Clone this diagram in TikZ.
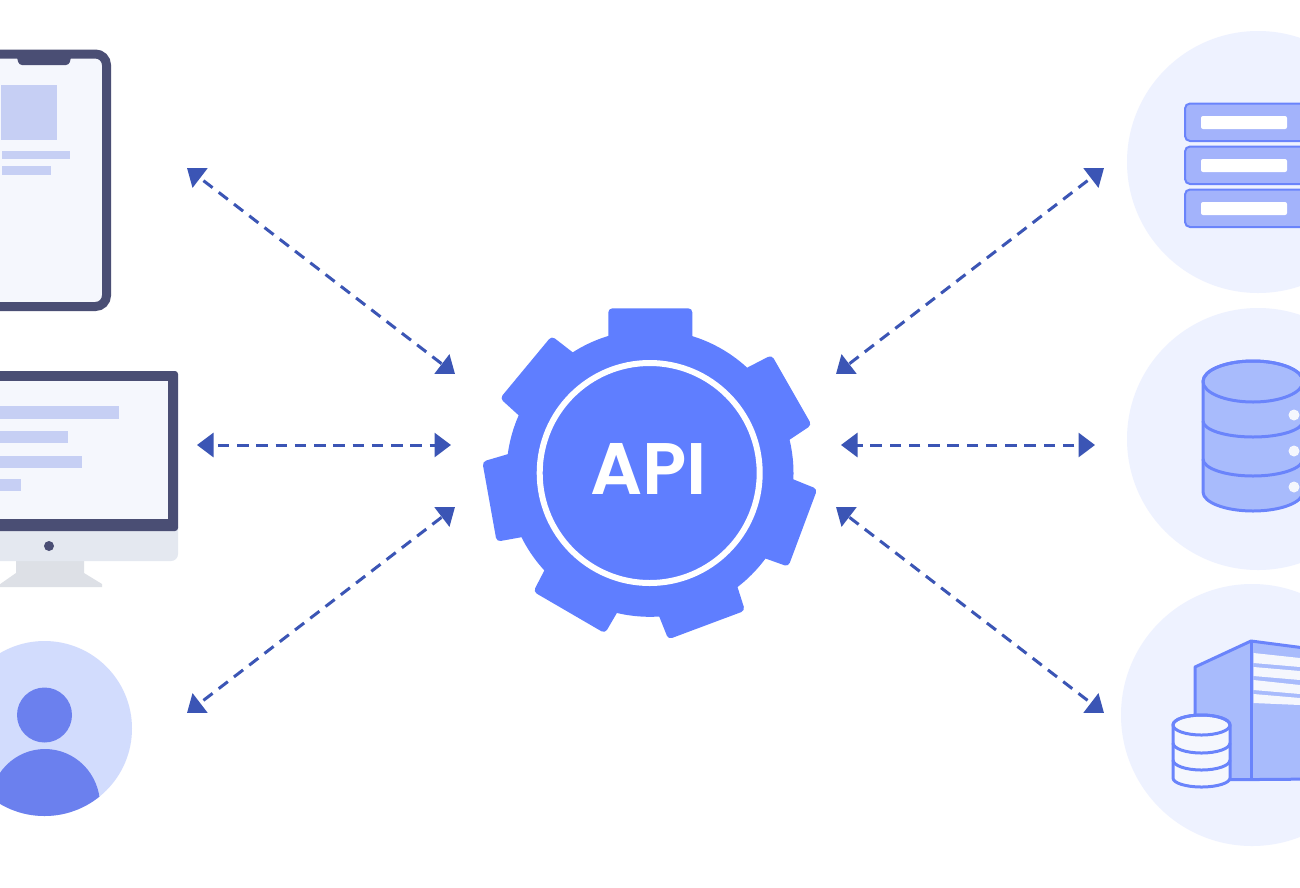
\documentclass[tikz,border=0pt]{standalone}
\usepackage{fontspec}
\setmainfont{Poppins}
\newfontfamily\apifont{Poppins SemiBold}
\usetikzlibrary{arrows.meta}
\definecolor{gearblue}{HTML}{5F7EFF}
\definecolor{arrowblue}{HTML}{3B55B5}
\definecolor{frame}{HTML}{4A4E74}
\definecolor{screen}{HTML}{F5F7FD}
\definecolor{barcol}{HTML}{C6CFF4}
\definecolor{chin}{HTML}{E4E8F0}
\definecolor{standcol}{HTML}{DDE0E6}
\definecolor{halo}{HTML}{EEF2FF}
\definecolor{userbg}{HTML}{D2DCFD}
\definecolor{userfg}{HTML}{6B80EE}
\definecolor{iconfill}{HTML}{A8BBFC}
\definecolor{serverfill}{HTML}{A3B3FB}
\definecolor{iconline}{HTML}{6A84FB}
\tikzset{
  conn/.style={draw=arrowblue,line width=3pt,dash pattern=on 11.5pt off 7.75pt,dash phase=14.25pt,
    {Triangle[length=16.5pt,width=24pt,fill=arrowblue]}-{Triangle[length=16.5pt,width=24pt,fill=arrowblue]}},
  tooth/.style={fill=gearblue,rounded corners=4pt},
  iconstroke/.style={draw=iconline,line width=3pt,line join=round},
  rack/.style={fill=serverfill,draw=iconline,line width=2pt,rounded corners=5pt},
  slot/.style={fill=white,rounded corners=2pt},
  stripe/.style={fill=screen},
}
\begin{document}
\begin{tikzpicture}[x=1pt,y=-1pt]
\useasboundingbox (0,0) rectangle (1300,887);
\clip (0,0) rectangle (1300,887);
\fill[white] (0,0) rectangle (1300,887);

% right halos
\fill[halo] (1258,162) circle[radius=131];
\fill[halo] (1258,439) circle[radius=131];
\fill[halo] (1252,715) circle[radius=131];

% phone
\draw[draw=frame,fill=screen,line width=9pt,rounded corners=11pt] (-20,54) rectangle (106.5,306.5);
\fill[frame,rounded corners=3pt] (15,50) -- (19,65) -- (69,65) -- (73,50) -- cycle;
\fill[barcol] (1,85) rectangle (57,140);
\fill[barcol] (2,151) rectangle (70,159);
\fill[barcol] (2,166) rectangle (51,175);

% monitor
\fill[standcol] (16,560) -- (84,560) -- (84,573) -- (102,584) -- (102,587) -- (-4,587) -- (16,573) -- cycle;
\fill[chin,rounded corners=7pt] (-20,520) rectangle (178,561);
\fill[frame,rounded corners=3pt] (-20,371) rectangle (178,531);
\fill[screen] (-20,381) rectangle (168,519);
\fill[barcol] (0,406) rectangle (119,419);
\fill[barcol] (0,431) rectangle (68,443);
\fill[barcol] (0,456) rectangle (82,468);
\fill[barcol] (0,479) rectangle (21,491);
\fill[frame] (49,546) circle[radius=5];

% user
\fill[userbg] (44.5,728.5) circle[radius=87.5];
\begin{scope}
  \clip (44.5,728.5) circle[radius=87.5];
  \fill[userfg] (45,805) ellipse[x radius=55,y radius=56];
\end{scope}
\fill[userfg] (44.5,715) circle[radius=27.5];

% server
\draw[rack] (1185,103.5) rectangle (1320,141);
\draw[rack] (1185,146.5) rectangle (1320,184);
\draw[rack] (1185,189.5) rectangle (1320,227);
\fill[slot] (1201,116) rectangle (1287,129);
\fill[slot] (1201,159) rectangle (1287,172);
\fill[slot] (1201,202) rectangle (1287,215);

% database
\path[fill=iconfill,iconstroke] (1203,381.5) -- (1203,492)
  arc[start angle=180,end angle=0,x radius=50,y radius=19] -- (1303,381.5)
  arc[start angle=0,end angle=-180,x radius=50,y radius=20.5] -- cycle;
\draw[iconstroke] (1253,381.5) ellipse[x radius=50,y radius=20.5];
\draw[iconstroke] (1203,421) arc[start angle=180,end angle=0,x radius=50,y radius=16];
\draw[iconstroke] (1203,459) arc[start angle=180,end angle=0,x radius=50,y radius=17];
\fill[screen] (1294,415) circle[radius=5.5];
\fill[screen] (1294,451) circle[radius=5.5];
\fill[screen] (1294,487) circle[radius=5.5];

% data centre
\path[fill=iconfill,iconstroke] (1195,780) -- (1195,667) -- (1251,641) -- (1320,650) -- (1320,779) -- cycle;
\draw[iconstroke] (1251,641) -- (1251,779);
\fill[stripe] (1253.5,653) -- (1300,658) -- (1300,667) -- (1253.5,663) -- cycle;
\fill[stripe] (1253.5,667) -- (1300,671) -- (1300,680) -- (1253.5,676) -- cycle;
\fill[stripe] (1253.5,680) -- (1300,685) -- (1300,694) -- (1253.5,690) -- cycle;
\fill[stripe] (1253.5,694) -- (1300,698) -- (1300,705) -- (1253.5,703) -- cycle;
\path[fill=screen,iconstroke] (1173,725) -- (1173,778)
  arc[start angle=180,end angle=0,x radius=28.5,y radius=9] -- (1230,725)
  arc[start angle=0,end angle=-180,x radius=28.5,y radius=10] -- cycle;
\draw[iconstroke] (1201.5,725) ellipse[x radius=28.5,y radius=10];
\draw[iconstroke] (1173,743) arc[start angle=180,end angle=0,x radius=28.5,y radius=10];
\draw[iconstroke] (1173,760) arc[start angle=180,end angle=0,x radius=28.5,y radius=10];

% gear
\fill[gearblue] (650,473.3) circle[radius=143.5];
\begin{scope}[shift={(470,290)},x=0.33333pt,y=-0.33333pt]
  \fill[tooth] (415,180) -- (415,55) -- (667,55) -- (667,180) -- cycle;
  \fill[tooth] (760,270) -- (905,195) -- (1025,405) -- (890,495) -- cycle;
  \fill[tooth] (900,540) -- (1042,597) -- (955,830) -- (815,780) -- cycle;
  \fill[tooth] (780,820) -- (825,962) -- (595,1048) -- (540,910) -- cycle;
  \fill[tooth] (475,910) -- (405,1030) -- (190,905) -- (255,780) -- cycle;
  \fill[tooth] (230,728) -- (80,755) -- (37,515) -- (190,470) -- cycle;
  \fill[tooth] (200,425) -- (90,325) -- (245,138) -- (370,235) -- cycle;
\end{scope}
\draw[white,line width=6pt] (649.7,473) circle[radius=110];
\node[text=white,inner sep=0pt,font=\fontsize{73}{73}\apifont] (api) at (648.5,469) {API};

% connector ends
\coordinate (a1s) at (187,168);  \coordinate (a1e) at (455,374);
\coordinate (a2s) at (197,445);  \coordinate (a2e) at (451,445);
\coordinate (a3s) at (187,713);  \coordinate (a3e) at (455,507);
\coordinate (a4s) at (1104,168); \coordinate (a4e) at (836,374);
\coordinate (a5s) at (1095,445); \coordinate (a5e) at (841,445);
\coordinate (a6s) at (1104,713); \coordinate (a6e) at (836,507);
\draw[conn] (a1s) -- (a1e);
\draw[conn] (a2s) -- (a2e);
\draw[conn] (a3s) -- (a3e);
\draw[conn] (a4s) -- (a4e);
\draw[conn] (a5s) -- (a5e);
\draw[conn] (a6s) -- (a6e);
\end{tikzpicture}
\end{document}
